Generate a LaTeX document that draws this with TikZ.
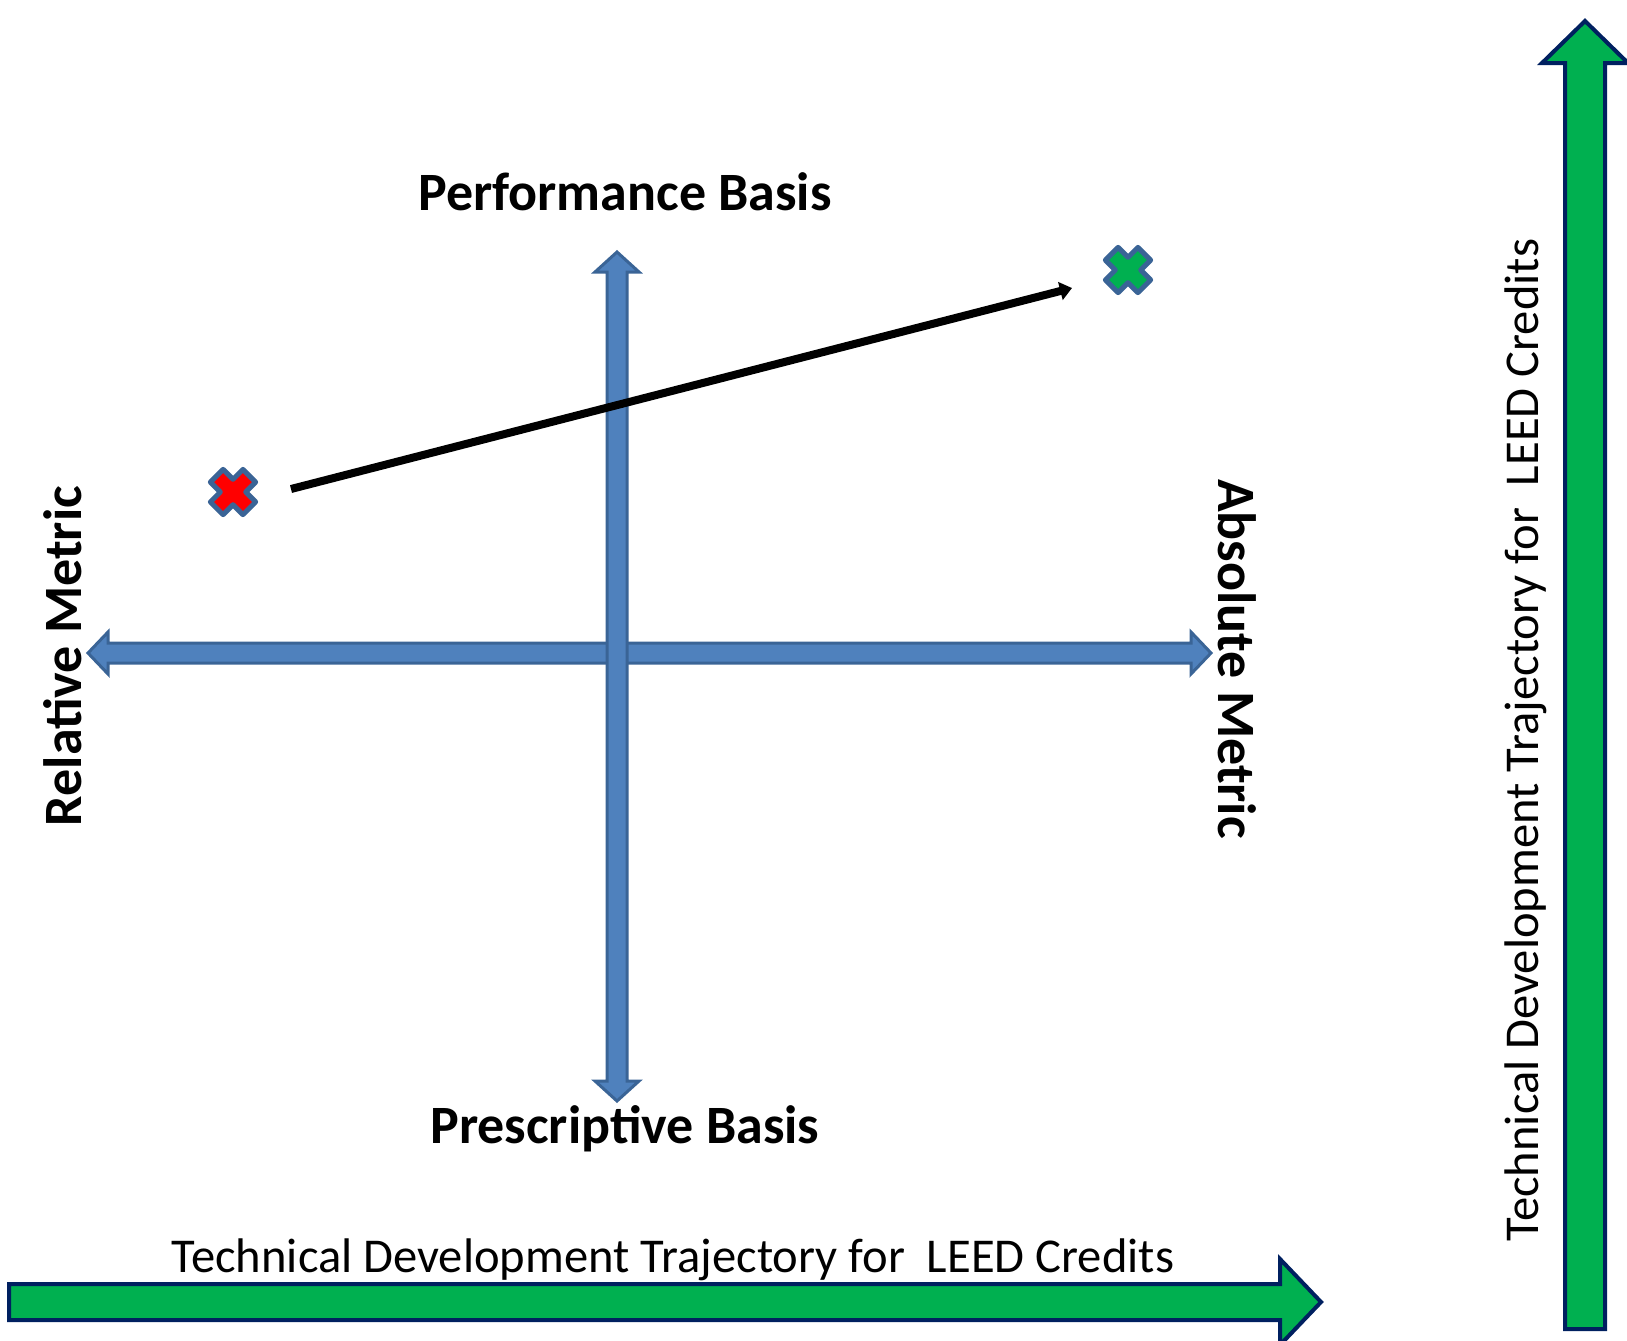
\documentclass[tikz,border=0pt]{standalone}
\usepackage{fontspec}
\setmainfont{Carlito}
\usetikzlibrary{arrows.meta,positioning}

\definecolor{axisblue}{HTML}{4F81BD}
\definecolor{axisedge}{HTML}{3A6496}
\definecolor{trackgreen}{HTML}{00B050}
\definecolor{tracknavy}{HTML}{002060}

\tikzstyle{axis}=[fill=axisblue,draw=axisedge,line width=1.5pt,line join=miter]
\tikzstyle{track}=[fill=trackgreen,draw=tracknavy,line width=2pt,line join=miter]
\tikzstyle{pole}=[font=\bfseries\fontsize{27}{32}\selectfont,inner sep=0pt,anchor=base]
\tikzstyle{trackname}=[font=\fontsize{24.3}{29}\selectfont,inner sep=0pt,anchor=base]
\tikzstyle{trend}=[line width=4pt,-{Triangle[length=6pt,width=9pt]}]

\tikzset{xcross/.pic={
  \path[pic actions,line width=2.5pt,line join=round,rotate=45]
    (9,23) -- (9,9) -- (23,9) -- (23,-9) -- (9,-9) -- (9,-23) -- (-9,-23)
    -- (-9,-9) -- (-23,-9) -- (-23,9) -- (-9,9) -- (-9,23) -- cycle;
}}

\begin{document}
\begin{tikzpicture}[x=0.5pt,y=-0.5pt]
  \useasboundingbox (0,0) rectangle (1627,1340);

  % green trajectory arrows
  \draw [track] (9,1284) -- (1280,1284) -- (1280,1259) -- (1321,1302)
     -- (1280,1345) -- (1280,1320) -- (9,1320) -- cycle;
  \draw [track] (1565,1329) -- (1565,63) -- (1542,63) -- (1585,21)
     -- (1628,63) -- (1605,63) -- (1605,1329) -- cycle;

  % blue axes
  \draw [axis] (88,653) -- (108,632) -- (108,643) -- (1191,643) -- (1191,632)
     -- (1211,653) -- (1191,674) -- (1191,663) -- (108,663) -- (108,674) -- cycle;
  \draw [axis] (617,252) -- (639,272) -- (627,272) -- (627,1081) -- (639,1081)
     -- (617,1101) -- (595,1081) -- (607,1081) -- (607,272) -- (595,272) -- cycle;

  % axis labels
  \node [pole] (perf) at (625,210) {Performance Basis};
  \node [pole] (presc) at (625,1143) {Prescriptive Basis};
  \node [pole,rotate=90] (rel) at (81,656) {Relative Metric};
  \node [pole,rotate=-90] (abs) at (1218,659) {Absolute Metric};

  \node [trackname] (tdx) at (673,1272) {Technical Development Trajectory for\ \ LEED Credits};
  \node [trackname,rotate=90] (tdy) at (1538,740) {Technical Development Trajectory for\ \ LEED Credits};

  % start and target marks
  \coordinate (now) at (233,492);
  \coordinate (goal) at (1128,270);
  \pic [fill=red,draw=axisedge] at (now) {xcross};
  \pic [fill=trackgreen,draw=axisedge] at (goal) {xcross};

  \coordinate (from) at (291,489);
  \coordinate (to) at (1072,288);
  \draw [trend] (from) -- (to);
\end{tikzpicture}
\end{document}
